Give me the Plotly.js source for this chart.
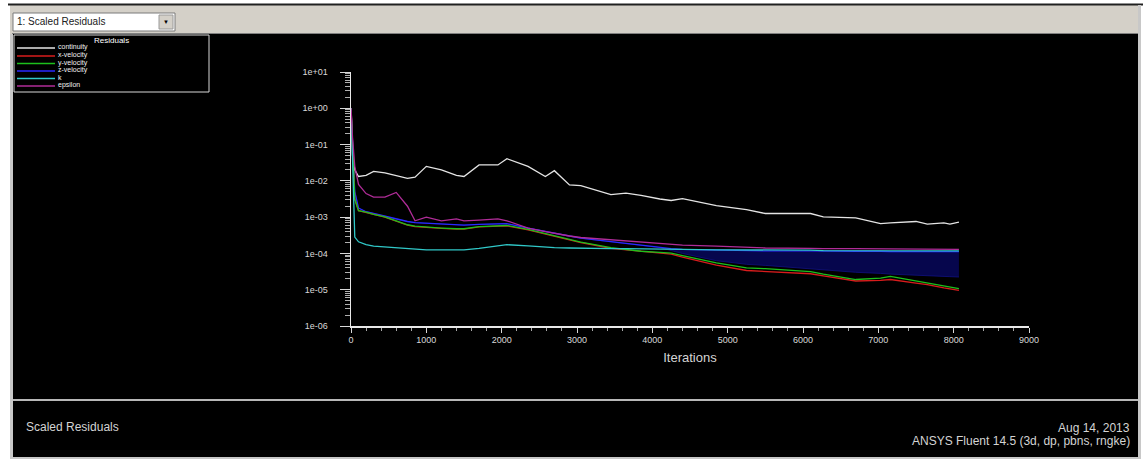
<!DOCTYPE html>
<html>
<head>
<meta charset="utf-8">
<script src="https://cdn.plot.ly/plotly-3.0.1.min.js"></script>
<style>
  html, body { margin: 0; padding: 0; background: #ffffff; }
  #chart { width: 1147px; height: 460px; }
</style>
</head>
<body>
<div id="chart"></div>
<script>
// Scaled residual history of the Fluent run (log scale)
const iterations = [1, 20, 50, 100, 200, 300, 450, 600, 750, 850,
  1000, 1200, 1400, 1500, 1700, 1950, 2070, 2350, 2580, 2700,
  2900, 3050, 3450, 3650, 3850, 4100, 4250, 4400, 4850, 5250,
  5500, 6100, 6270, 6700, 7030, 7160, 7500, 7650, 7870, 7950, 8070];

const continuity = [1.0, 5.0e-2, 2.0e-2, 1.32e-2, 1.41e-2, 1.82e-2, 1.66e-2, 1.41e-2, 1.17e-2, 1.26e-2,
  2.51e-2, 2.0e-2, 1.41e-2, 1.32e-2, 2.75e-2, 2.75e-2, 4.07e-2, 2.51e-2, 1.32e-2, 1.91e-2,
  7.76e-3, 7.41e-3, 4.17e-3, 4.57e-3, 3.98e-3, 3.16e-3, 2.88e-3, 3.24e-3, 2.09e-3, 1.62e-3,
  1.26e-3, 1.26e-3, 1.02e-3, 9.55e-4, 6.61e-4, 6.92e-4, 7.59e-4, 6.46e-4, 6.92e-4, 6.46e-4, 7.24e-4];

const xVelocity = [1.0, 6.31e-2, 3.16e-3, 1.51e-3, 1.35e-3, 1.17e-3, 1.0e-3, 7.76e-4, 6.03e-4, 5.50e-4,
  5.13e-4, 4.90e-4, 4.68e-4, 4.68e-4, 5.37e-4, 5.62e-4, 5.75e-4, 4.47e-4, 3.39e-4, 2.95e-4,
  2.40e-4, 2.0e-4, 1.38e-4, 1.26e-4, 1.12e-4, 1.02e-4, 9.55e-5, 7.94e-5, 4.79e-5, 3.39e-5,
  3.16e-5, 2.75e-5, 2.40e-5, 1.74e-5, 1.82e-5, 1.91e-5, 1.51e-5, 1.38e-5, 1.12e-5, 1.05e-5, 9.55e-6];

const yVelocity = [1.0, 6.31e-2, 3.16e-3, 1.51e-3, 1.38e-3, 1.20e-3, 1.02e-3, 7.94e-4, 6.17e-4, 5.62e-4,
  5.25e-4, 5.01e-4, 4.79e-4, 4.79e-4, 5.50e-4, 5.75e-4, 5.89e-4, 4.57e-4, 3.55e-4, 3.02e-4,
  2.51e-4, 2.04e-4, 1.45e-4, 1.29e-4, 1.15e-4, 1.07e-4, 1.02e-4, 8.71e-5, 5.50e-5, 3.98e-5,
  3.80e-5, 3.16e-5, 2.69e-5, 1.91e-5, 2.09e-5, 2.34e-5, 1.74e-5, 1.58e-5, 1.26e-5, 1.17e-5, 1.07e-5];

const zVelocity = [1.0, 1.0e-1, 5.01e-3, 1.78e-3, 1.41e-3, 1.26e-3, 1.05e-3, 8.91e-4, 7.59e-4, 7.08e-4,
  6.76e-4, 6.31e-4, 6.03e-4, 6.03e-4, 6.31e-4, 6.61e-4, 6.61e-4, 5.01e-4, 3.98e-4, 3.55e-4,
  3.02e-4, 2.63e-4, 2.09e-4, 1.91e-4, 1.66e-4, 1.45e-4, 1.35e-4, 1.29e-4, 1.23e-4, 1.20e-4,
  1.17e-4, 1.17e-4, 1.15e-4, 1.15e-4, 1.15e-4, 1.12e-4, 1.12e-4, 1.12e-4, 1.12e-4, 1.12e-4, 1.12e-4];

// lower bound of the z-velocity oscillation once it sets in
const zVelocityLow = [1.0, 1.0e-1, 5.01e-3, 1.78e-3, 1.41e-3, 1.26e-3, 1.05e-3, 8.91e-4, 7.59e-4, 7.08e-4,
  6.76e-4, 6.31e-4, 6.03e-4, 6.03e-4, 6.31e-4, 6.61e-4, 6.61e-4, 5.01e-4, 3.98e-4, 3.55e-4,
  3.02e-4, 2.63e-4, 2.09e-4, 1.91e-4, 1.66e-4, 1.45e-4, 1.20e-4, 1.0e-4, 6.31e-5, 5.01e-5,
  4.68e-5, 3.72e-5, 3.55e-5, 3.02e-5, 2.82e-5, 2.69e-5, 2.51e-5, 2.40e-5, 2.34e-5, 2.29e-5, 2.24e-5];

const kResidual = [1.0, 3.16e-2, 2.82e-4, 2.09e-4, 1.74e-4, 1.58e-4, 1.51e-4, 1.41e-4, 1.32e-4, 1.29e-4,
  1.26e-4, 1.26e-4, 1.26e-4, 1.26e-4, 1.38e-4, 1.66e-4, 1.74e-4, 1.62e-4, 1.48e-4, 1.45e-4,
  1.41e-4, 1.38e-4, 1.35e-4, 1.35e-4, 1.32e-4, 1.32e-4, 1.29e-4, 1.29e-4, 1.26e-4, 1.26e-4,
  1.23e-4, 1.23e-4, 1.20e-4, 1.20e-4, 1.20e-4, 1.20e-4, 1.17e-4, 1.17e-4, 1.17e-4, 1.17e-4, 1.17e-4];

const epsilon = [1.0, 1.58e-1, 2.51e-2, 7.94e-3, 4.47e-3, 3.55e-3, 3.55e-3, 4.79e-3, 2.0e-3, 7.94e-4,
  1.0e-3, 7.94e-4, 8.91e-4, 7.94e-4, 8.32e-4, 8.91e-4, 7.94e-4, 5.01e-4, 3.98e-4, 3.55e-4,
  3.02e-4, 2.75e-4, 2.40e-4, 2.24e-4, 2.0e-4, 1.91e-4, 1.82e-4, 1.70e-4, 1.58e-4, 1.48e-4,
  1.41e-4, 1.38e-4, 1.35e-4, 1.35e-4, 1.32e-4, 1.32e-4, 1.32e-4, 1.29e-4, 1.29e-4, 1.29e-4, 1.29e-4];

const seriesLabels = ['continuity', 'x-velocity', 'y-velocity', 'z-velocity', 'k', 'epsilon'];
const seriesValues = [continuity, xVelocity, yVelocity, zVelocity, kResidual, epsilon];

const xTickValues = [0, 1000, 2000, 3000, 4000, 5000, 6000, 7000, 8000, 9000];
const xTickLabels = ['0', '1000', '2000', '3000', '4000', '5000', '6000', '7000', '8000', '9000'];
const yTickValues = [1e1, 1e0, 1e-1, 1e-2, 1e-3, 1e-4, 1e-5, 1e-6];
const yTickLabels = ['1e+01', '1e+00', '1e-01', '1e-02', '1e-03', '1e-04', '1e-05', '1e-06'];

const windowSelector = '1: Scaled Residuals';
const legendTitle = 'Residuals';
const xTitle = 'Iterations';
const footerTitle = 'Scaled Residuals';
const footerDate = 'Aug 14, 2013';
const footerSolver = 'ANSYS Fluent 14.5 (3d, dp, pbns, rngke)';

// ---- styling ----
const W = 1147, H = 460;
const M = { l: 351, r: 118, t: 72, b: 134 };
const plotW = W - M.l - M.r, plotH = H - M.t - M.b;
const fx = p => (p - M.l) / plotW;          // pixel -> paper x
const fy = p => (H - M.b - p) / plotH;       // pixel -> paper y
const FONT = 'Liberation Sans, Arial, sans-serif';

const colors = ['#e4e4e4', '#d81c1c', '#1cc01c', '#2a2aff', '#30c8c8', '#b02c98'];
const lineWidth = 1.3;

// minor ticks on the log axis at 2..9 of each decade
const yMinorTicks = [];
for (let d = -6; d <= 0; d++) {
  for (let m = 2; m <= 9; m++) yMinorTicks.push(m * Math.pow(10, d));
}
const xMinorTicks = [];
for (let v = 200; v < 9000; v += 200) if (v % 1000 !== 0) xMinorTicks.push(v);

const traces = [];
// z-velocity oscillation band
traces.push({
  x: iterations, y: zVelocityLow, type: 'scatter', mode: 'lines',
  line: { color: '#101080', width: 0.8 }, showlegend: false, hoverinfo: 'skip'
});
traces.push({
  x: iterations, y: zVelocity, type: 'scatter', mode: 'lines', name: seriesLabels[3],
  fill: 'tonexty', fillcolor: 'rgba(8,8,110,0.7)',
  line: { color: colors[3], width: lineWidth }, showlegend: false
});
[0, 1, 2, 4, 5].forEach(i => {
  traces.push({
    x: iterations, y: seriesValues[i], type: 'scatter', mode: 'lines', name: seriesLabels[i],
    line: { color: colors[i], width: lineWidth }, showlegend: false
  });
});

const shapes = [];
const annotations = [];
const rect = (x0, y0, x1, y1, fill, line, layer) => shapes.push({
  type: 'rect', xref: 'paper', yref: 'paper',
  x0: fx(x0), x1: fx(x1), y0: fy(y0), y1: fy(y1),
  fillcolor: fill, line: line || { width: 0 }, layer: layer || 'below'
});
const seg = (x0, y0, x1, y1, color, width, layer) => shapes.push({
  type: 'line', xref: 'paper', yref: 'paper',
  x0: fx(x0), x1: fx(x1), y0: fy(y0), y1: fy(y1),
  line: { color: color, width: width }, layer: layer || 'below'
});
const text = (str, x, y, size, color, xanchor) => annotations.push({
  text: str, xref: 'paper', yref: 'paper', x: fx(x), y: fy(y),
  xanchor: xanchor || 'left', yanchor: 'middle', showarrow: false,
  font: { family: FONT, size: size, color: color }, borderpad: 0
});

// window frame
rect(10, 5, 1141, 34, '#d4d0c8');
rect(12, 34, 1139, 399, '#000000');
rect(12, 401, 1139, 457, '#000000');
seg(8, 4.5, 1143, 4.5, '#202020', 2);
seg(12, 33.5, 1139, 33.5, '#808080', 1);
seg(12, 400, 1139, 400, '#b8b8b8', 2);
seg(11.5, 34, 11.5, 458, '#c8c8c8', 3);
seg(1139.5, 5, 1139.5, 458, '#c8c8c8', 3);
seg(10, 458, 1141, 458, '#c8c8c8', 2);

// selector box
rect(13, 13, 175, 31, '#ffffff', { color: '#7a7a7a', width: 1 });
rect(159, 15, 173, 29, '#d4d0c8', { color: '#9a9a9a', width: 1 });
text(windowSelector, 16, 22, 10, '#202020');
text('\u25BC', 166, 22, 6, '#000000', 'center');

// legend
rect(14, 35, 209, 92, 'rgba(0,0,0,0)', { color: '#d8d8d8', width: 1 }, 'above');
text(legendTitle, 111, 40, 8, '#ffffff', 'center');
const legendRows = [48, 56, 63.5, 71, 78.5, 86];
seriesLabels.forEach((label, i) => {
  seg(17, legendRows[i], 55, legendRows[i], colors[i], 1.5, 'above');
  text(label, 57, legendRows[i] - 1, 7, '#f0f0f0');
});

// footer
text(footerTitle, 25, 427, 12, '#d4d4d4');
text(footerDate, 1131, 428, 12, '#d4d4d4', 'right');
text(footerSolver, 1131, 441, 12, '#d4d4d4', 'right');

const layout = {
  width: W, height: H,
  margin: M,
  paper_bgcolor: '#ffffff',
  plot_bgcolor: '#000000',
  showlegend: false,
  font: { family: FONT, color: '#dcdcdc' },
  xaxis: {
    range: [0, 9000],
    tickmode: 'array', tickvals: xTickValues, ticktext: xTickLabels,
    ticks: 'outside', ticklen: 5, tickwidth: 1, tickcolor: '#d8d8d8',
    minor: { tickmode: 'array', tickvals: xMinorTicks, ticks: 'outside', ticklen: 3, tickcolor: '#a8a8a8', showgrid: false },
    showline: true, linecolor: '#e8e8e8', linewidth: 1.5,
    showgrid: false, zeroline: false,
    tickfont: { family: FONT, size: 9, color: '#d8d8d8' },
    title: { text: xTitle, font: { family: FONT, size: 13, color: '#d4d4d4' }, standoff: 8 }
  },
  yaxis: {
    type: 'log', range: [-6, 1],
    tickmode: 'array', tickvals: yTickValues, ticktext: yTickLabels,
    ticks: 'outside', ticklen: 10, tickwidth: 1, tickcolor: '#d8d8d8',
    minor: { tickmode: 'array', tickvals: yMinorTicks, ticks: 'outside', ticklen: 5, tickcolor: '#b0b0b0', showgrid: false },
    showline: true, linecolor: '#e8e8e8', linewidth: 1.5,
    showgrid: false, zeroline: false,
    ticklabelstandoff: 10,
    tickfont: { family: FONT, size: 9, color: '#d8d8d8' }
  },
  shapes: shapes,
  annotations: annotations
};

Plotly.newPlot('chart', traces, layout, { staticPlot: true, displayModeBar: false });
</script>
</body>
</html>
